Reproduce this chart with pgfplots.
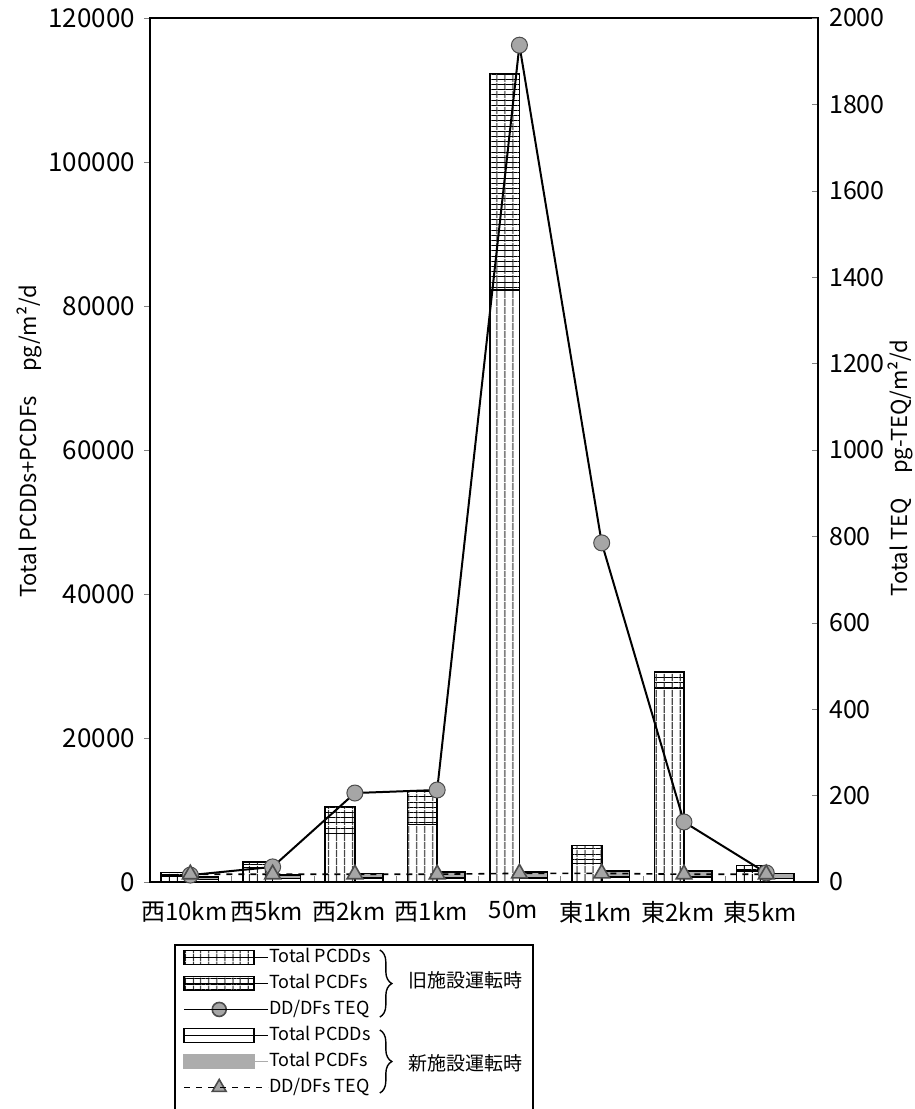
\documentclass[border=0pt]{standalone}
\usepackage{fontspec}
\setmainfont{Noto Sans CJK JP}
\usepackage{pgfplots}
\pgfplotsset{compat=1.18}
\usetikzlibrary{patterns,patterns.meta,decorations.pathreplacing}

\pgfplotsset{
  boxlegend/.style={legend image code/.code={%
     \draw[##1] (0pt,-3.5pt) rectangle (35pt,3.5pt); \path (0pt,0pt) -- (42pt,0pt);}},
  linelegend/.style={legend image code/.code={%
     \draw[mark repeat=2,mark phase=2,##1] plot coordinates {(0pt,0pt) (17.5pt,0pt) (35pt,0pt)}; \path (0pt,0pt) -- (42pt,0pt);}},
  vlines/.style={postaction={pattern={Lines[angle=90,distance=4pt,line width=0.6pt]}}},
  hlines/.style={postaction={pattern={Lines[angle=0,distance=2.6pt,line width=0.5pt]}}},
}

\begin{document}
\begin{tikzpicture}
\begin{axis}[
  width=334pt, height=432pt, scale only axis,
  xmin=-0.49, xmax=7.63,
  ymin=0, ymax=120000,
  ytick={0,20000,...,120000},
  scaled y ticks=false,
  /pgf/number format/assume math mode=true,
  /pgf/number format/1000 sep={},
  yticklabel style={/pgf/number format/fixed, font=\fontsize{13}{15}\selectfont, xshift=-1pt},
  ytick pos=left,
  tick align=outside,
  major tick length=3pt,
  xtick={0,...,7},
  xticklabels={西10km,西5km,西2km,西1km,50m,東1km,東2km,東5km},
  major x tick style={draw=none},
  xtick pos=left,
  xticklabel style={font=\fontsize{12}{14}\selectfont, yshift=-3pt, xshift=-3pt},
  axis line style={line width=0.8pt},
  ylabel={Total PCDDs+PCDFs\hspace{1.1em}pg/m²/d},
  ylabel style={at={(axis description cs:-0.18,0.51)}, anchor=center, font=\fontsize{11}{13}\selectfont},
  legend style={at={(axis description cs:0.0494,-0.0764)}, anchor=north west, draw=none, fill=none,
    inner sep=0pt, row sep=4pt, font=\fontsize{9}{10}\selectfont,
    nodes={inner sep=0pt, text height=7pt, text depth=2pt}},
  legend cell align=left,
]
% old facility: total (PCDDs+PCDFs) with grid pattern, then PCDDs on top
\addplot[ybar, bar width=0.36, bar shift=-0.18, draw=black, line width=0.8pt, fill=white, hlines, vlines, forget plot]
  coordinates {(0,1300) (1,2800) (2,10500) (3,12600) (4,112300) (5,5100) (6,29200) (7,2300)};
\addplot[ybar, bar width=0.36, bar shift=-0.18, draw=black, line width=0.8pt, fill=white, vlines, forget plot]
  coordinates {(0,800) (1,2000) (2,6750) (3,8000) (4,82200) (5,2600) (6,26850) (7,1500)};
% new facility: total with gray, then PCDDs white
\addplot[ybar, bar width=0.34, bar shift=0.17, draw=black, line width=0.8pt, fill=gray!65, forget plot]
  coordinates {(0,700) (1,1000) (2,1200) (3,1400) (4,1400) (5,1500) (6,1500) (7,1200)};
\addplot[ybar, bar width=0.34, bar shift=0.17, draw=black, line width=0.8pt, fill=white, forget plot]
  coordinates {(0,350) (1,500) (2,600) (3,600) (4,600) (5,700) (6,700) (7,500)};

\addlegendimage{boxlegend, draw=black, line width=0.8pt, fill=white, vlines}
\addlegendentry{Total PCDDs}
\addlegendimage{boxlegend, draw=black, line width=0.8pt, fill=white, hlines, vlines}
\addlegendentry{Total PCDFs}
\addlegendimage{linelegend, black, line width=0.8pt, mark=*, mark size=3.5pt, mark options={fill=gray!70, draw=gray!60!black}}
\addlegendentry{DD/DFs TEQ}
\addlegendimage{boxlegend, draw=black, line width=0.8pt, fill=white}
\addlegendentry{Total PCDDs}
\addlegendimage{boxlegend, draw=gray!65, line width=0.8pt, fill=gray!65}
\addlegendentry{Total PCDFs}
\addlegendimage{linelegend, black, line width=0.8pt, dashed, mark=triangle*, mark size=4pt, mark options={solid, fill=gray!70, draw=gray!60!black}}
\addlegendentry{DD/DFs TEQ}

\coordinate (BBsw) at (axis description cs:-0.2246,-0.2627);
\coordinate (BBne) at (axis description cs:1.1437,1.0208);
\coordinate (LGnw) at (axis description cs:0.0374,-0.0729);
\coordinate (LGse) at (axis description cs:0.5734,-0.28);
\coordinate (B1t) at (axis description cs:0.344,-0.0787);
\coordinate (B1b) at (axis description cs:0.344,-0.1563);
\coordinate (B2t) at (axis description cs:0.344,-0.1713);
\coordinate (B2b) at (axis description cs:0.344,-0.2442);
\coordinate (T1) at (axis description cs:0.4716,-0.1134);
\coordinate (T2) at (axis description cs:0.4716,-0.2095);
\end{axis}

\begin{axis}[
  width=334pt, height=432pt, scale only axis,
  xmin=-0.49, xmax=7.63,
  ymin=0, ymax=2000,
  clip=false,
  axis x line*=bottom, axis y line*=right,
  axis line style={-, line width=0.8pt},
  xtick={0.5,1.5,...,6.5}, xticklabels={},
  ytick={0,200,...,2000},
  tick align=inside, major tick length=3pt,
  /pgf/number format/assume math mode=true,
  /pgf/number format/1000 sep={},
  yticklabel style={font=\fontsize{12.5}{14}\selectfont, xshift=2pt},
  ylabel={Total TEQ\hspace{1.1em}pg-TEQ/m²/d},
  ylabel style={at={(axis description cs:1.124,0.479)}, anchor=center, font=\fontsize{11}{13}\selectfont},
]
\addplot[black, line width=1pt, mark=*, mark size=4pt, mark options={fill=gray!70, draw=gray!60!black, line width=0.5pt}]
  coordinates {(0,16) (1,35) (2,206) (3,213) (4,1937) (5,785) (6,139) (7,21)};
\addplot[black, line width=0.8pt, dashed, mark=triangle*, mark size=4.5pt, mark options={solid, fill=gray!70, draw=gray!60!black}]
  coordinates {(0,18) (1,18) (2,18) (3,18) (4,20) (5,20) (6,18) (7,18)};
\end{axis}

\draw[line width=0.6pt] (LGnw) rectangle (LGse);
\draw[line width=0.7pt, decorate, decoration={brace, amplitude=6pt}] (B1t) -- (B1b);
\draw[line width=0.7pt, decorate, decoration={brace, amplitude=6pt}] (B2t) -- (B2b);
\node[font=\fontsize{9.5}{11}\selectfont] at (T1) {旧施設運転時};
\node[font=\fontsize{9.5}{11}\selectfont] at (T2) {新施設運転時};

\pgfresetboundingbox
\path[use as bounding box] (BBsw) rectangle (BBne);
\end{tikzpicture}
\end{document}
